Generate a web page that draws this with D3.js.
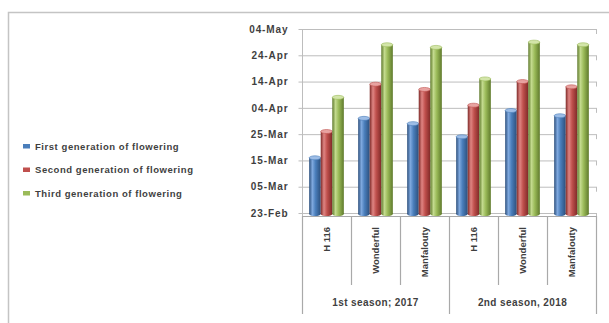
<!DOCTYPE html>
<html>
<head>
<meta charset="utf-8">
<script src="https://cdn.jsdelivr.net/npm/d3@7"></script>
<style>
  html, body { margin: 0; padding: 0; background: #ffffff; }
  svg { display: block; font-family: "Liberation Sans", Arial, sans-serif; }
</style>
</head>
<body>
<svg id="chart" width="609" height="323"></svg>
<script>
// Varieties per season and the two seasons they belong to
const categories = ["H 116", "Wonderful", "Manfalouty", "H 116", "Wonderful", "Manfalouty"];
const seasons = ["1st season; 2017", "2nd season, 2018"];
const seriesNames = [
  "First generation of flowering",
  "Second generation of flowering",
  "Third generation of flowering"
];

// Flowering dates (day-month) for each variety/season
const firstGen  = ["16-Mar", "31-Mar", "29-Mar", "24-Mar", "03-Apr", "01-Apr"];
const secondGen = ["26-Mar", "13-Apr", "11-Apr", "05-Apr", "14-Apr", "12-Apr"];
const thirdGen  = ["08-Apr", "28-Apr", "27-Apr", "15-Apr", "29-Apr", "28-Apr"];

// Date axis ticks
const yTickLabels = ["23-Feb", "05-Mar", "15-Mar", "25-Mar", "04-Apr", "14-Apr", "24-Apr", "04-May"];

const colors = [
  { dark: "#2c4f7c", mid: "#4a7ebb", light: "#7fa9df", top: "#9dbde6" },
  { dark: "#7f2a28", mid: "#c0504d", light: "#df8583", top: "#e8a3a1" },
  { dark: "#5f7a2c", mid: "#9bbb59", light: "#c3da8e", top: "#d3e5a9" }
];

// Every date is placed on one common calendar year so seasons share the axis
const parseDay = s => d3.timeParse("%d-%b-%Y")(s + "-2017");
const series = [firstGen, secondGen, thirdGen].map((vals, i) => ({
  name: seriesNames[i],
  index: i,
  values: vals.map(parseDay)
}));
const tickDates = yTickLabels.map(parseDay);

const svg = d3.select("#chart");
const plot = { left: 302, right: 596, top: 29, bottom: 213 };
const textColor = "#3f3f3f";

// Outer chart frame
svg.append("path")
  .attr("d", "M8.5,323 V12.5 H609")
  .attr("fill", "none")
  .attr("stroke", "#c4c4c4")
  .attr("stroke-width", 1.5);

// Scales
const y = d3.scaleTime()
  .domain([tickDates[0], tickDates[tickDates.length - 1]])
  .range([plot.bottom, plot.top]);

const x = d3.scaleBand()
  .domain(d3.range(categories.length))
  .range([plot.left, plot.right])
  .padding(0);

const xSeries = d3.scaleBand()
  .domain(d3.range(series.length))
  .range([0, x.bandwidth()])
  .paddingInner(0)
  .paddingOuter(0.62);

// Gradients that give the columns a cylinder look
const defs = svg.append("defs");
colors.forEach((c, i) => {
  const g = defs.append("linearGradient")
    .attr("id", "cyl" + i)
    .attr("x1", "0%").attr("x2", "100%").attr("y1", "0%").attr("y2", "0%");
  g.append("stop").attr("offset", "0%").attr("stop-color", c.dark);
  g.append("stop").attr("offset", "28%").attr("stop-color", c.light);
  g.append("stop").attr("offset", "55%").attr("stop-color", c.mid);
  g.append("stop").attr("offset", "100%").attr("stop-color", c.dark);
});

// Gridlines and plot border
const gridColor = "#bdbdbd";
const grid = svg.append("g");
grid.selectAll("line.grid")
  .data(tickDates)
  .join("line")
  .attr("class", "grid")
  .attr("x1", plot.left).attr("x2", plot.right)
  .attr("y1", d => y(d) + 0.5).attr("y2", d => y(d) + 0.5)
  .attr("stroke", gridColor).attr("stroke-width", 1);
// little side-wall ticks at the right end of each gridline
grid.selectAll("line.rtick")
  .data(tickDates)
  .join("line")
  .attr("class", "rtick")
  .attr("x1", plot.right + 0.5).attr("x2", plot.right + 0.5)
  .attr("y1", d => y(d)).attr("y2", d => y(d) + 5)
  .attr("stroke", gridColor);

// Date axis with short outward ticks
const yAxis = d3.axisLeft(y)
  .tickValues(tickDates)
  .tickFormat(d3.timeFormat("%d-%b"))
  .tickSize(4)
  .tickSizeOuter(0)
  .tickPadding(10);
const yAxisG = svg.append("g")
  .attr("transform", `translate(${plot.left + 0.5},0)`)
  .call(yAxis);
yAxisG.select(".domain").attr("stroke", gridColor).attr("d", `M0,${plot.top}V${plot.bottom + 3}`);
yAxisG.selectAll(".tick line").attr("stroke", gridColor);
yAxisG.selectAll("text")
  .attr("font-size", "10px")
  .attr("font-weight", "bold")
  .attr("letter-spacing", "0.9px")
  .attr("fill", textColor);

// Cylinder columns
const groups = svg.append("g")
  .selectAll("g.cat")
  .data(categories.map((c, i) => i))
  .join("g")
  .attr("class", "cat")
  .attr("transform", i => `translate(${x(i)},0)`);

const bars = groups.selectAll("g.bar")
  .data(i => series.map(s => ({ s: s.index, value: s.values[i] })))
  .join("g")
  .attr("class", "bar");

const ry = 2;
bars.append("rect")
  .attr("x", d => xSeries(d.s))
  .attr("width", xSeries.bandwidth())
  .attr("y", d => y(d.value))
  .attr("height", d => plot.bottom + 1 - y(d.value))
  .attr("fill", d => `url(#cyl${d.s})`);
bars.append("ellipse")
  .attr("cx", d => xSeries(d.s) + xSeries.bandwidth() / 2)
  .attr("cy", plot.bottom + 1)
  .attr("rx", xSeries.bandwidth() / 2)
  .attr("ry", ry)
  .attr("fill", d => `url(#cyl${d.s})`);
bars.append("ellipse")
  .attr("cx", d => xSeries(d.s) + xSeries.bandwidth() / 2)
  .attr("cy", d => y(d.value))
  .attr("rx", xSeries.bandwidth() / 2)
  .attr("ry", ry)
  .attr("fill", d => colors[d.s].top)
  .attr("stroke", d => colors[d.s].mid)
  .attr("stroke-width", 0.6);

// Category table below the plot
const tableTop = 216;
const lineColor = "#a9a9a9";
const table = svg.append("g");
table.append("line")
  .attr("x1", plot.left).attr("x2", plot.right)
  .attr("y1", tableTop + 0.5).attr("y2", tableTop + 0.5)
  .attr("stroke", lineColor);
const edges = d3.range(categories.length + 1);
table.selectAll("line.div")
  .data(edges)
  .join("line")
  .attr("class", "div")
  .attr("x1", i => Math.round(i < categories.length ? x(i) : plot.right) + 0.5)
  .attr("x2", i => Math.round(i < categories.length ? x(i) : plot.right) + 0.5)
  .attr("y1", tableTop)
  .attr("y2", i => (i % 3 === 0 ? 314 : 285))
  .attr("stroke", lineColor)
  .attr("stroke-width", 1.2);

table.selectAll("text.cat")
  .data(categories)
  .join("text")
  .attr("class", "cat")
  .attr("transform", (d, i) => `translate(${x(i) + x.bandwidth() / 2 + 3.5},227) rotate(-90)`)
  .attr("text-anchor", "end")
  .attr("font-size", "9.5px")
  .attr("font-weight", "bold")
  .attr("fill", textColor)
  .text(d => d);

table.selectAll("text.season")
  .data(seasons)
  .join("text")
  .attr("class", "season")
  .attr("x", (d, i) => (x(i * 3) + (i === 1 ? plot.right : x(3))) / 2)
  .attr("y", 306)
  .attr("text-anchor", "middle")
  .attr("font-size", "10px")
  .attr("font-weight", "bold")
  .attr("letter-spacing", "0.4px")
  .attr("fill", textColor)
  .text(d => d);

// Legend
const legend = svg.append("g").attr("transform", "translate(23,146)");
const item = legend.selectAll("g")
  .data(series)
  .join("g")
  .attr("transform", (d, i) => `translate(0,${i * 23.5})`);
item.append("rect")
  .attr("x", 0).attr("y", -2)
  .attr("width", 7).attr("height", 4.5)
  .attr("fill", d => colors[d.index].mid);
item.append("text")
  .attr("x", 12).attr("y", 3.5)
  .attr("font-size", "9.5px")
  .attr("font-weight", "bold")
  .attr("letter-spacing", "0.55px")
  .attr("fill", textColor)
  .text(d => d.name);
</script>
</body>
</html>
